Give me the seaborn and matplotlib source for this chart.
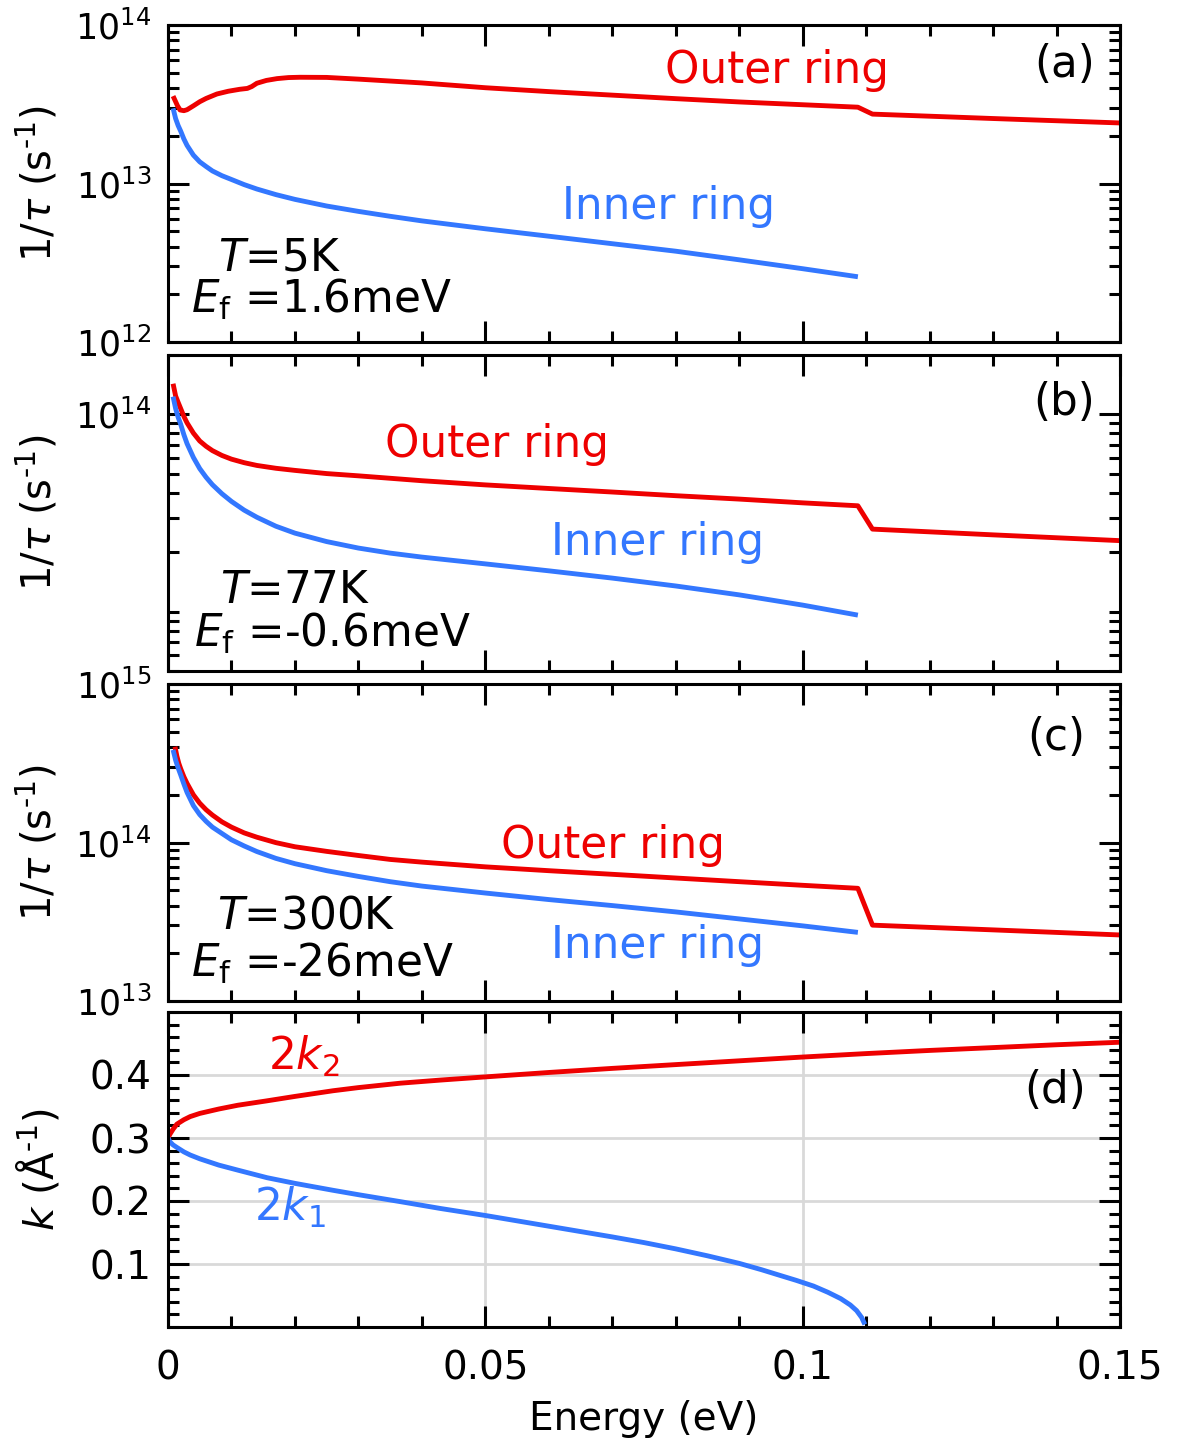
import numpy as np
import matplotlib
matplotlib.use("Agg")
import matplotlib.pyplot as plt
from matplotlib.ticker import (FixedLocator, LogLocator, MultipleLocator,
                               NullFormatter, FuncFormatter)
import seaborn as sns

# ---------------- data ----------------
# (a) T = 5 K
energy_a_outer = [0.0008, 0.0015, 0.0019, 0.0025, 0.003, 0.004, 0.005, 0.006, 0.0077, 0.0095,
                  0.0113, 0.0125, 0.0132, 0.014, 0.0155, 0.0172, 0.019, 0.0208, 0.025, 0.0302,
                  0.04, 0.05, 0.06, 0.07, 0.08, 0.09, 0.1, 0.1087, 0.111, 0.13, 0.15]
rate_a_outer = [3.56e13, 3.09e13, 2.91e13, 2.88e13, 2.92e13, 3.09e13, 3.28e13, 3.44e13, 3.67e13,
                3.82e13, 3.93e13, 3.98e13, 4.09e13, 4.29e13, 4.47e13, 4.59e13, 4.66e13, 4.68e13,
                4.67e13, 4.55e13, 4.31e13, 4.02e13, 3.80e13, 3.61e13, 3.43e13, 3.27e13, 3.14e13,
                3.03e13, 2.74e13, 2.57e13, 2.41e13]
energy_a_inner = [0.0008, 0.0012, 0.0016, 0.002, 0.0025, 0.003, 0.004, 0.005, 0.006, 0.007,
                  0.0085, 0.01, 0.012, 0.014, 0.017, 0.02, 0.025, 0.03, 0.035, 0.04, 0.05,
                  0.06, 0.07, 0.08, 0.09, 0.1, 0.1087]
rate_a_inner = [2.98e13, 2.57e13, 2.32e13, 2.14e13, 1.91e13, 1.74e13, 1.51e13, 1.37e13, 1.28e13,
                1.20e13, 1.12e13, 1.06e13, 9.84e12, 9.23e12, 8.51e12, 7.94e12, 7.21e12, 6.67e12,
                6.21e12, 5.81e12, 5.18e12, 4.65e12, 4.17e12, 3.74e12, 3.30e12, 2.90e12, 2.58e12]

# (b) T = 77 K
energy_b_outer = [0.0008, 0.0012, 0.0016, 0.002, 0.0025, 0.003, 0.004, 0.005, 0.006, 0.007,
                  0.0085, 0.01, 0.012, 0.014, 0.017, 0.02, 0.025, 0.03, 0.04, 0.05, 0.06,
                  0.07, 0.08, 0.09, 0.1, 0.1087, 0.111, 0.13, 0.15]
rate_b_outer = [1.43e14, 1.24e14, 1.15e14, 1.07e14, 9.77e13, 9.06e13, 8.04e13, 7.33e13, 6.89e13,
                6.55e13, 6.19e13, 5.93e13, 5.69e13, 5.51e13, 5.33e13, 5.20e13, 5.01e13, 4.88e13,
                4.61e13, 4.39e13, 4.21e13, 4.04e13, 3.87e13, 3.72e13, 3.56e13, 3.44e13, 2.62e13,
                2.45e13, 2.29e13]
energy_b_inner = [0.0008, 0.0012, 0.0016, 0.002, 0.0025, 0.003, 0.004, 0.005, 0.006, 0.007,
                  0.0085, 0.01, 0.012, 0.014, 0.017, 0.02, 0.025, 0.03, 0.035, 0.04, 0.05,
                  0.06, 0.07, 0.08, 0.09, 0.1, 0.1087]
rate_b_inner = [1.23e14, 1.07e14, 9.66e13, 8.91e13, 7.89e13, 7.11e13, 6.05e13, 5.31e13, 4.80e13,
                4.40e13, 3.96e13, 3.62e13, 3.27e13, 3.01e13, 2.71e13, 2.50e13, 2.265e13, 2.10e13,
                1.98e13, 1.89e13, 1.746e13, 1.61e13, 1.479e13, 1.349e13, 1.216e13, 1.079e13, 9.6e12]

# (c) T = 300 K
energy_c_outer = [0.0011, 0.0014, 0.0017, 0.002, 0.0025, 0.003, 0.004, 0.005, 0.006, 0.007,
                  0.0085, 0.01, 0.012, 0.014, 0.017, 0.02, 0.025, 0.03, 0.035, 0.04, 0.05,
                  0.06, 0.07, 0.08, 0.09, 0.1, 0.1087, 0.111, 0.13, 0.15]
rate_c_outer = [4.02e14, 3.51e14, 3.16e14, 2.92e14, 2.60e14, 2.36e14, 2.00e14, 1.77e14, 1.61e14,
                1.49e14, 1.35e14, 1.25e14, 1.15e14, 1.08e14, 9.98e13, 9.40e13, 8.79e13, 8.28e13,
                7.82e13, 7.52e13, 7.02e13, 6.64e13, 6.30e13, 5.97e13, 5.66e13, 5.37e13, 5.14e13,
                3.01e13, 2.81e13, 2.61e13]
energy_c_inner = [0.0008, 0.0012, 0.0016, 0.002, 0.0025, 0.003, 0.004, 0.005, 0.006, 0.007,
                  0.0085, 0.01, 0.012, 0.014, 0.017, 0.02, 0.025, 0.03, 0.035, 0.04, 0.05,
                  0.06, 0.07, 0.08, 0.09, 0.1, 0.1087]
rate_c_inner = [3.84e14, 3.31e14, 2.95e14, 2.67e14, 2.34e14, 2.07e14, 1.71e14, 1.50e14, 1.36e14,
                1.25e14, 1.14e14, 1.04e14, 9.51e13, 8.77e13, 7.94e13, 7.35e13, 6.64e13, 6.11e13,
                5.66e13, 5.31e13, 4.80e13, 4.365e13, 4.00e13, 3.648e13, 3.296e13, 2.979e13, 2.71e13]

# (d) nesting wave vectors
energy_k2 = [0.0, 0.0003, 0.0008, 0.0014, 0.0025, 0.0035, 0.005, 0.008, 0.011, 0.0156, 0.02,
             0.026, 0.03, 0.0366, 0.043, 0.05, 0.06, 0.07, 0.08, 0.09, 0.1, 0.11, 0.12, 0.13,
             0.14, 0.15]
k2_values = [0.300, 0.306, 0.314, 0.322, 0.329, 0.334, 0.339, 0.346, 0.352, 0.359, 0.366,
             0.375, 0.380, 0.387, 0.392, 0.397, 0.404, 0.4105, 0.4165, 0.4225, 0.4285, 0.434,
             0.439, 0.4435, 0.448, 0.452]
energy_k1 = [0.0, 0.0003, 0.0008, 0.0014, 0.0025, 0.0035, 0.005, 0.008, 0.011, 0.0156, 0.02,
             0.026, 0.03, 0.0366, 0.043, 0.05, 0.06, 0.07, 0.075, 0.08, 0.085, 0.09, 0.0935,
             0.0964, 0.099, 0.1017, 0.104, 0.106, 0.1075, 0.1085, 0.1093, 0.1098]
k1_values = [0.300, 0.294, 0.289, 0.285, 0.278, 0.273, 0.267, 0.257, 0.249, 0.237, 0.228,
             0.217, 0.210, 0.199, 0.188, 0.177, 0.160, 0.143, 0.134, 0.124, 0.113, 0.101, 0.091,
             0.082, 0.074, 0.065, 0.055, 0.045, 0.035, 0.026, 0.015, 0.004]

panel_tags = ["(a)", "(b)", "(c)", "(d)"]
temperatures = [r"$T$=5K", r"$T$=77K", r"$T$=300K"]
fermi_levels = [r"$E_\mathrm{f}$ =1.6meV", r"$E_\mathrm{f}$ =-0.6meV", r"$E_\mathrm{f}$ =-26meV"]

# ---------------- style ----------------
sns.set_theme(style="ticks")
plt.rcParams["font.family"] = ["DejaVu Sans"]
plt.rcParams["mathtext.fontset"] = "dejavusans"
plt.rcParams.update({
    "axes.edgecolor": "black",
    "xtick.color": "black",
    "ytick.color": "black",
    "text.color": "black",
    "axes.labelcolor": "black",
})

RED = "#EE0000"
BLUE = "#3377FF"
LW = 3.5
TXT = 31.5

fig = plt.figure(figsize=(11.85, 14.5), dpi=100)
W, H = 1185.0, 1450.0
left, width = 168 / W, 952 / W
rows = [(25, 342), (355, 671), (684, 1001), (1012, 1327)]
axes = [fig.add_axes([left, 1 - b / H, width, (b - t) / H]) for t, b in rows]
ax_a, ax_b, ax_c, ax_d = axes


def style_axis(ax, ylab_size):
    for s in ax.spines.values():
        s.set_linewidth(2.2)
        s.set_color("black")
    ax.set_xlim(0, 0.15)
    ax.xaxis.set_major_locator(MultipleLocator(0.05))
    ax.xaxis.set_minor_locator(MultipleLocator(0.01))
    ax.tick_params(which="both", direction="in", top=True, right=True, width=2.2,
                   color="black")
    ax.tick_params(which="major", length=15)
    ax.tick_params(which="minor", length=8)
    ax.tick_params(axis="y", which="major", labelsize=ylab_size, pad=12)
    ax.tick_params(axis="x", which="major", labelsize=28, pad=16)


def rate_panel(ax, e_out, r_out, e_in, r_in, ylim):
    ax.set_yscale("log")
    sns.lineplot(x=e_out, y=r_out, ax=ax, color=RED, linewidth=LW,
                 solid_capstyle="butt")
    sns.lineplot(x=e_in, y=r_in, ax=ax, color=BLUE, linewidth=LW,
                 solid_capstyle="butt")
    ax.set_ylim(*ylim)
    style_axis(ax, 25)
    ax.set_ylabel(r"1/$\tau$ (s$^{\text{-}1}$)", fontsize=29)
    ax.yaxis.set_label_coords(-0.113, 0.5)
    ax.set_xlabel("")
    ax.tick_params(axis="x", labelbottom=False)


rate_panel(ax_a, energy_a_outer, rate_a_outer, energy_a_inner, rate_a_inner, (1e12, 1e14))
rate_panel(ax_b, energy_b_outer, rate_b_outer, energy_b_inner, rate_b_inner, (5e12, 2e14))
rate_panel(ax_c, energy_c_outer, rate_c_outer, energy_c_inner, rate_c_inner, (1e13, 1e15))

for ax in (ax_a, ax_c):
    ax.yaxis.set_major_locator(LogLocator(base=10))
    ax.yaxis.set_minor_locator(LogLocator(base=10, subs=np.arange(2, 10)))
    ax.yaxis.set_minor_formatter(NullFormatter())

# panel (b): only 10^14 carries a label
ax_b.yaxis.set_major_locator(FixedLocator([1e14]))
ax_b.yaxis.set_minor_locator(FixedLocator(
    [m * 1e12 for m in range(5, 10)] + [m * 1e13 for m in range(1, 10)] + [2e14]))
ax_b.yaxis.set_minor_formatter(NullFormatter())

# panel (d)
sns.lineplot(x=energy_k2, y=k2_values, ax=ax_d, color=RED, linewidth=LW,
             solid_capstyle="butt")
sns.lineplot(x=energy_k1, y=k1_values, ax=ax_d, color=BLUE, linewidth=LW,
             solid_capstyle="butt")
ax_d.set_ylim(0, 0.5)
style_axis(ax_d, 28)
ax_d.yaxis.set_major_locator(FixedLocator([0.1, 0.2, 0.3, 0.4]))
ax_d.yaxis.set_minor_locator(MultipleLocator(0.02))
ax_d.yaxis.set_major_formatter(FuncFormatter(lambda v, _: f"{v:g}"))
ax_d.xaxis.set_major_formatter(FuncFormatter(lambda v, _: f"{v:g}"))
ax_d.grid(True, which="major", color="#d9d9d9", linewidth=2)
ax_d.set_axisbelow(True)
ax_d.set_ylabel(r"$k$ (Å$^{\text{-}1}$)", fontsize=29)
ax_d.yaxis.set_label_coords(-0.111, 0.5)
ax_d.set_xlabel("Energy (eV)", fontsize=28)
ax_d.xaxis.set_label_coords(0.5, -0.232)

# ---------------- annotations ----------------
def put(ax, x, y, s, color="black", ha="left", va="baseline"):
    ax.text(x, y, s, transform=ax.transAxes, color=color, fontsize=TXT, ha=ha, va=va)

put(ax_a, 0.522, 0.817, "Outer ring", RED)
put(ax_a, 0.414, 0.388, "Inner ring", BLUE)
put(ax_b, 0.228, 0.677, "Outer ring", RED)
put(ax_b, 0.402, 0.367, "Inner ring", BLUE)
put(ax_c, 0.350, 0.451, "Outer ring", RED)
put(ax_c, 0.402, 0.136, "Inner ring", BLUE)

temp_pos = [(0.053, 0.227), (0.055, 0.215), (0.051, 0.230)]
ef_pos = [(0.024, 0.0915), (0.027, 0.076), (0.024, 0.0757)]
for ax, t, e, tp, ep in zip((ax_a, ax_b, ax_c), temperatures, fermi_levels, temp_pos, ef_pos):
    put(ax, tp[0], tp[1], t)
    put(ax, ep[0], ep[1], e)

put(ax_d, 0.105, 0.816, r"$2k_2$", RED)
put(ax_d, 0.090, 0.337, r"$2k_1$", BLUE)

tag_pos = [(0.974, 0.874), (0.974, 0.851), (0.964, 0.83), (0.964, 0.752)]
for ax, tag, (x, y) in zip(axes, panel_tags, tag_pos):
    put(ax, x, y, tag, ha="right", va="center")

fig.savefig("out.png", dpi=100)
